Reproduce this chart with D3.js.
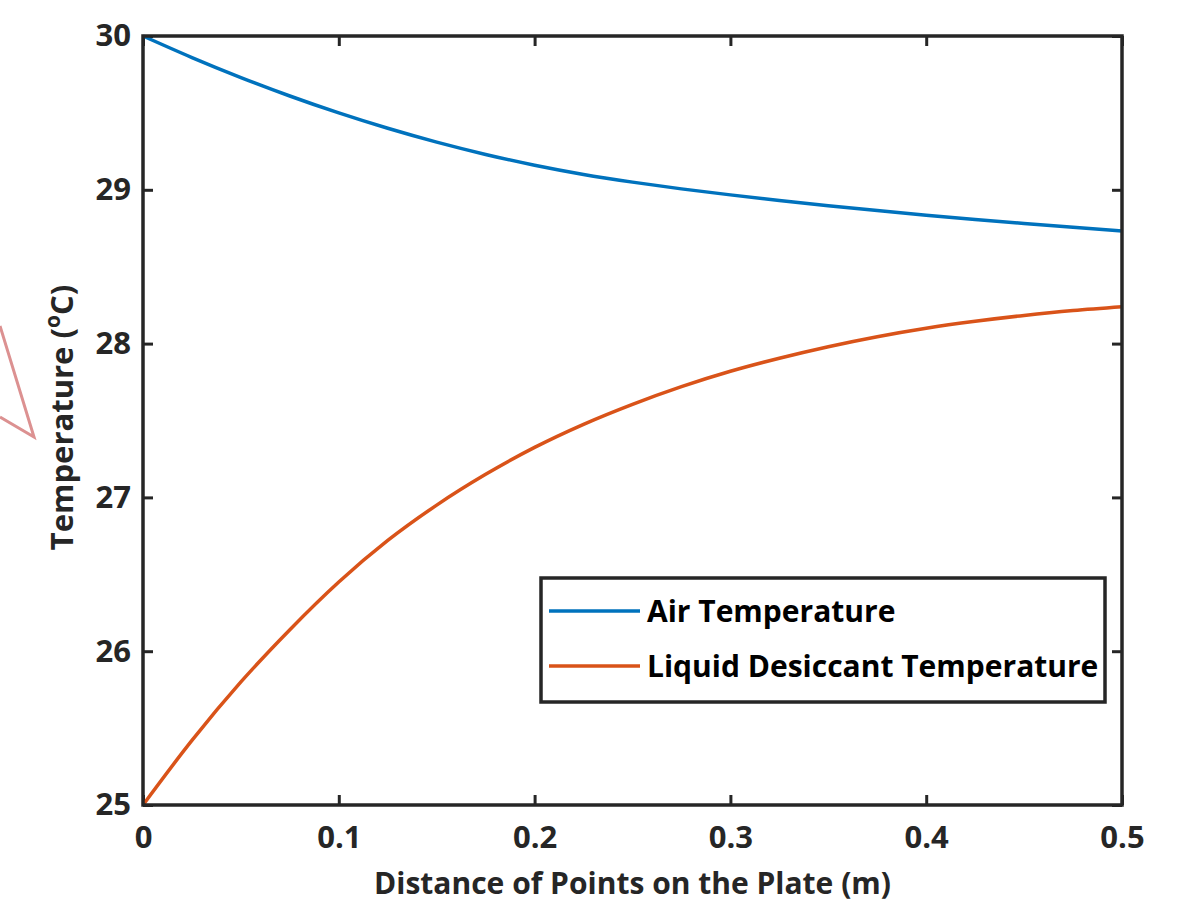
<!DOCTYPE html>
<html>
<head>
<meta charset="utf-8">
<script src="https://cdn.jsdelivr.net/npm/d3@7"></script>
<style>
  html, body { margin: 0; padding: 0; background: #fff; }
  svg text { font-family: "Open Sans", "Noto Sans", sans-serif; }
</style>
</head>
<body>
<div id="chart"></div>
<script>
// distance along the plate (m)
const distance = [0, 0.025, 0.05, 0.075, 0.1, 0.125, 0.15, 0.175, 0.2, 0.225, 0.25,
  0.275, 0.3, 0.325, 0.35, 0.375, 0.4, 0.425, 0.45, 0.475, 0.5]
const airTemp = [30.00, 29.86, 29.73, 29.61, 29.50, 29.40, 29.31, 29.23, 29.16, 29.10, 29.05,
  29.006, 28.967, 28.931, 28.897, 28.865, 28.835, 28.807, 28.781, 28.756, 28.732]
const liquidTemp = [25.00, 25.42, 25.80, 26.14, 26.45, 26.72, 26.95, 27.15, 27.325, 27.475, 27.605,
  27.72, 27.82, 27.905, 27.98, 28.045, 28.10, 28.145, 28.183, 28.215, 28.24]
const seriesNames = ["Air Temperature", "Liquid Desiccant Temperature"]
const xTicks = [0, 0.1, 0.2, 0.3, 0.4, 0.5]
const yTicks = [25, 26, 27, 28, 29, 30]

const width = 1184
const height = 905
const margin = [36, 62, 100, 143] // top right bottom left
const colors = ["#0072BD", "#D95319"]
const axisColor = "#262626"

const x = d3.scaleLinear().domain([0, 0.5]).range([margin[3], width - margin[1]])
const y = d3.scaleLinear().domain([25, 30]).range([height - margin[2], margin[0]])

const svg = d3.create("svg")
  .attr("width", width)
  .attr("height", height)
  .attr("viewBox", [0, 0, width, height])

// cropped annotation arrow on the left edge
svg.append("path")
  .attr("d", "M0,326 L34,437 L0,417")
  .attr("fill", "none")
  .attr("stroke", "#dc9191")
  .attr("stroke-width", 3)
  .attr("stroke-linejoin", "miter")

const fmtX = d => d === 0 ? "0" : d3.format(".1f")(d)

const styleAxis = g => {
  g.select(".domain").remove()
  g.selectAll(".tick line").attr("stroke", axisColor).attr("stroke-width", 3)
  g.selectAll(".tick text")
    .attr("fill", axisColor)
    .style("font-size", "31px")
    .style("font-weight", "700")
}

svg.append("g")
  .attr("transform", `translate(0,${y(25)})`)
  .call(d3.axisBottom(x).tickValues(xTicks).tickFormat(fmtX).tickSize(-10).tickPadding(21))
  .call(styleAxis)

svg.append("g")
  .attr("transform", `translate(${x(0)},0)`)
  .call(d3.axisLeft(y).tickValues(yTicks).tickFormat(d3.format("d")).tickSize(-10).tickPadding(12))
  .call(styleAxis)

svg.append("g")
  .attr("transform", `translate(0,${y(30)})`)
  .call(d3.axisTop(x).tickValues(xTicks).tickFormat("").tickSize(-10))
  .call(styleAxis)

svg.append("g")
  .attr("transform", `translate(${x(0.5)},0)`)
  .call(d3.axisRight(y).tickValues(yTicks).tickFormat("").tickSize(-10))
  .call(styleAxis)

const line = d3.line()
  .x((d, i) => x(distance[i]))
  .y(d => y(d))
  .curve(d3.curveMonotoneX)

svg.append("g")
  .selectAll("path")
  .data([airTemp, liquidTemp])
  .join("path")
  .attr("d", line)
  .attr("fill", "none")
  .attr("stroke", (d, i) => colors[i])
  .attr("stroke-width", 3.5)

// box
svg.append("rect")
  .attr("x", x(0))
  .attr("y", y(30))
  .attr("width", x(0.5) - x(0))
  .attr("height", y(25) - y(30))
  .attr("fill", "none")
  .attr("stroke", axisColor)
  .attr("stroke-width", 3.5)

// axis titles
svg.append("text")
  .attr("x", (x(0) + x(0.5)) / 2)
  .attr("y", 894)
  .attr("text-anchor", "middle")
  .attr("fill", axisColor)
  .style("font-size", "30px")
  .style("font-weight", "700")
  .text("Distance of Points on the Plate (m)")

const yTitle = svg.append("text")
  .attr("transform", `translate(73,${(y(25) + y(30)) / 2 - 3}) rotate(-90)`)
  .attr("text-anchor", "middle")
  .attr("fill", axisColor)
  .style("font-size", "31px")
  .style("font-weight", "700")
yTitle.append("tspan").text("Temperature (")
yTitle.append("tspan").attr("dy", -13).style("font-size", "21px").text("o")
yTitle.append("tspan").attr("dy", 13).text("C)")

// legend
const legend = svg.append("g").attr("transform", "translate(541,578)")
legend.append("rect")
  .attr("width", 564)
  .attr("height", 124)
  .attr("fill", "#fff")
  .attr("stroke", axisColor)
  .attr("stroke-width", 3.5)

const item = legend.selectAll(".item")
  .data(seriesNames)
  .join("g")
  .attr("class", "item")
  .attr("transform", (d, i) => `translate(0,${33 + i * 55})`)
item.append("line")
  .attr("x1", 8)
  .attr("x2", 99)
  .attr("stroke", (d, i) => colors[i])
  .attr("stroke-width", 3.5)
item.append("text")
  .attr("x", 106)
  .attr("dy", "0.35em")
  .attr("fill", "#000")
  .style("font-size", "30px")
  .style("font-weight", "700")
  .text(d => d)

document.querySelector("#chart").append(svg.node())
</script>
</body>
</html>
